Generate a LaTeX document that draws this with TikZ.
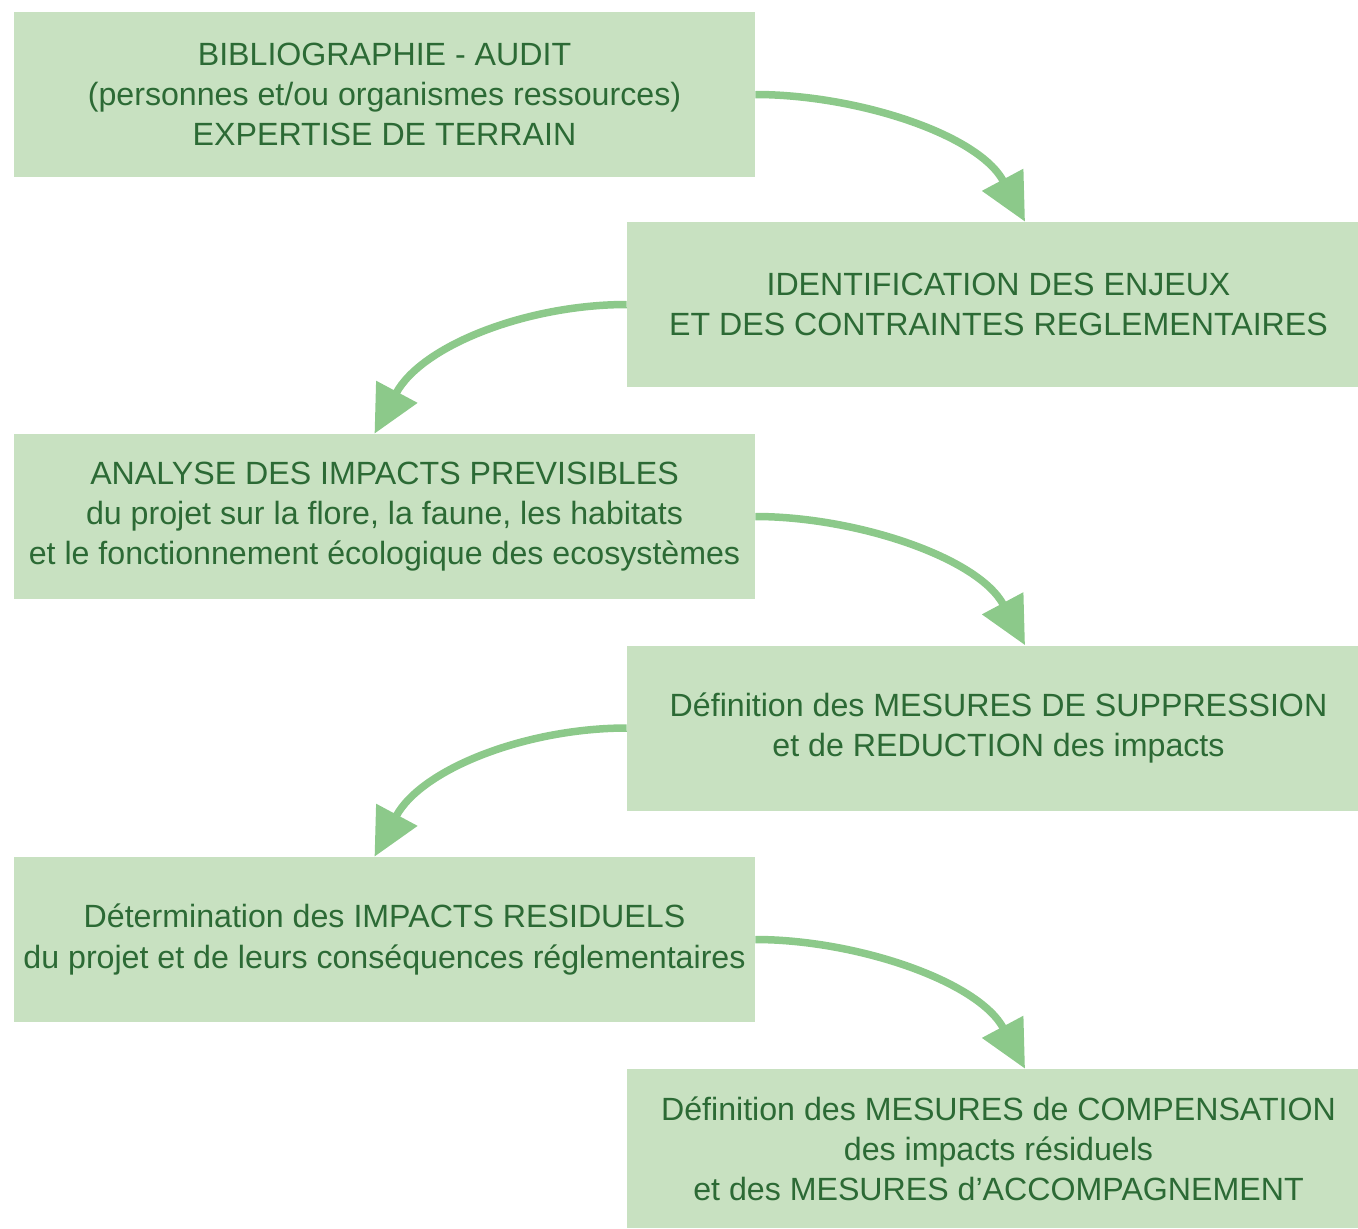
\documentclass[tikz,border=0pt]{standalone}
\usepackage{fontspec}
\setmainfont{Liberation Sans}
\usetikzlibrary{arrows.meta}
\definecolor{boxfill}{HTML}{C8E1C1}
\definecolor{boxtext}{HTML}{2C6A35}
\definecolor{arrowc}{HTML}{8CC98A}
\begin{document}
\begin{tikzpicture}[x=0.02cm,y=-0.02cm,
  box/.style={fill=boxfill, text=boxtext, align=center, inner sep=0pt,
    font=\fontsize{18.3pt}{22.8pt}\selectfont},
  wideL/.style={box, minimum width=14.82cm, minimum height=3.3cm},
  wideR/.style={box, minimum width=14.86cm, minimum height=3.3cm},
  flow/.style={draw=arrowc, line width=0.15cm,
    -{Triangle[length=0.95cm,width=0.9cm]}}]
\path[use as bounding box] (0,0) rectangle (1358,1228);
\node[wideL] (b1) at (384.5,94.5) {BIBLIOGRAPHIE - AUDIT\\(personnes et/ou organismes ressources)\\EXPERTISE DE TERRAIN};
\node[wideR] (b2) at (998.5,304.5) {IDENTIFICATION DES ENJEUX\\ET DES CONTRAINTES REGLEMENTAIRES};
\node[wideL] (b3) at (384.5,516.5) {ANALYSE DES IMPACTS PREVISIBLES\\du projet sur la flore, la faune, les habitats\\et le fonctionnement écologique des ecosystèmes};
\node[wideR] (b4) at (998.5,728) {Définition des MESURES DE SUPPRESSION\\et de REDUCTION des impacts};
\node[wideL] (b5) at (384.5,939.5) {Détermination des IMPACTS RESIDUELS\\du projet et de leurs conséquences réglementaires};
\node[box, minimum width=14.86cm, minimum height=3.18cm] (b6) at (998.5,1148.5) {Définition des MESURES de COMPENSATION\\des impacts résiduels\\et des MESURES d’ACCOMPAGNEMENT};
\draw[flow] (b1.east) .. controls +(100,0) and +(-47,-88) .. ([xshift=0.53cm]b2.north);
\draw[flow] (b2.west) .. controls +(-100,0) and +(47,-88) .. ([xshift=-0.2cm]b3.north);
\draw[flow] (b3.east) .. controls +(100,0) and +(-47,-88) .. ([xshift=0.53cm]b4.north);
\draw[flow] (b4.west) .. controls +(-100,0) and +(47,-88) .. ([xshift=-0.2cm]b5.north);
\draw[flow] (b5.east) .. controls +(100,0) and +(-47,-88) .. ([xshift=0.53cm]b6.north);
\end{tikzpicture}
\end{document}
